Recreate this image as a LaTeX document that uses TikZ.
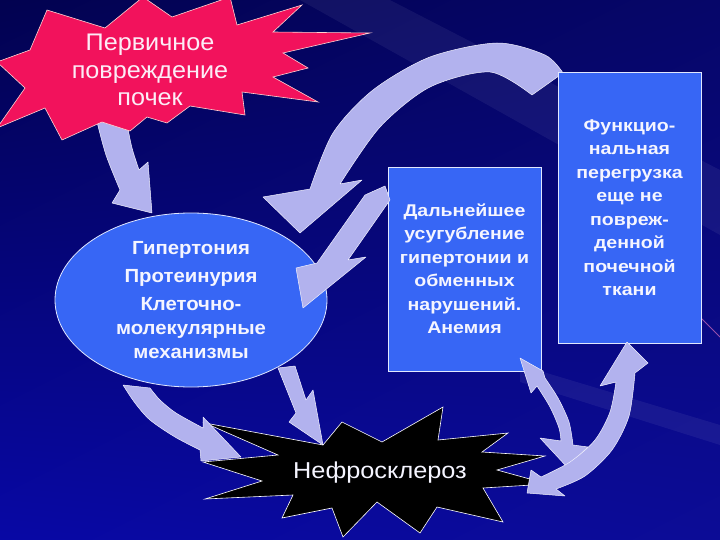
\documentclass[tikz,border=0pt]{standalone}
\usepackage{fontspec}
\setmainfont{Liberation Sans}
\newfontfamily\boxfont[FakeStretch=1.15]{Liberation Sans}
\newfontfamily\ovalfont[FakeStretch=1.07]{Liberation Sans}
\newfontfamily\starfont[FakeStretch=1.05]{Liberation Sans}
\newfontfamily\nephfont[FakeStretch=1.1]{Liberation Sans}
\usetikzlibrary{shapes.geometric,shadings}
\definecolor{bgUL}{RGB}{2,2,80}
\definecolor{bgUR}{RGB}{6,6,105}
\definecolor{bgLL}{RGB}{8,8,165}
\definecolor{bgLR}{RGB}{12,12,150}
\definecolor{starred}{RGB}{242,18,92}
\definecolor{boxblue}{RGB}{55,102,245}
\definecolor{arrowlav}{RGB}{178,178,238}
\definecolor{txtwhite}{RGB}{245,245,255}
\definecolor{txtpink}{RGB}{252,236,246}
\tikzset{
  blockarrow/.style={fill=arrowlav, draw=white!80!arrowlav, line width=0.5pt, line join=round},
  bluebox/.style={rectangle, fill=boxblue, draw=white!85!boxblue, line width=0.8pt,
    inner sep=0pt, align=center, text=txtwhite, font=\boxfont\bfseries\fontsize{17}{23.5}\selectfont},
  blueoval/.style={ellipse, fill=boxblue, draw=white!85!boxblue, line width=0.8pt,
    inner sep=0pt, align=center, text=txtwhite, font=\ovalfont\bfseries\fontsize{19}{24}\selectfont},
  startext/.style={align=center, inner sep=0pt},
  streak/.style={fill=white, opacity=0.06}
}
\begin{document}
\begin{tikzpicture}[x=1pt,y=-1pt]
\useasboundingbox (0,0) rectangle (720,540);
% background
\shade[upper left=bgUL, upper right=bgUR, lower left=bgLL, lower right=bgLR] (0,0) rectangle (720,540);
\fill[streak] (300,0) -- (390,0) -- (720,170) -- (720,235) -- cycle;
\fill[streak] (520,365) -- (720,425) -- (720,445) -- (520,382) -- cycle;
\draw[magenta!50!white, opacity=0.6, line width=0.8pt] (697,314) -- (720,337);

% arrow A (star -> ellipse), under the star
\filldraw[blockarrow] (96,118) -- (127,124) -- plot[smooth] coordinates {(127,124) (132,148) (139,170)}
  -- (148,162) -- (152,213) -- (112,203) -- (120,190)
  -- plot[smooth] coordinates {(120,190) (106,155) (96,118)} -- cycle;

% red star
\filldraw[fill=starred, draw=pink!70!white, line width=0.6pt, line join=miter]
  (47,10) -- (105,28) -- (143,-3) -- (172,17) -- (230,-3) -- (237,25) -- (302,5) -- (273,32)
  -- (370,33) -- (283,53) -- (308,68) -- (273,77) -- (318,102) -- (242,92) -- (245,115)
  -- (190,106) -- (167,123) -- (147,117) -- (130,131) -- (102,122) -- (62,140) -- (45,108)
  -- (-3,128) -- (25,88) -- (-3,62) -- (30,50) -- cycle;
\node[startext, text=txtpink, font=\starfont\fontsize{24}{27.5}\selectfont] (prim) at (150,70)
  {Первичное\\повреждение\\почек};

% big arc arrow B (right box -> ellipse)
\filldraw[blockarrow] (263,197) -- (310,189)
  -- plot[smooth] coordinates {(310,189) (333,133) (373,90) (430,57) (497,43) (545,55) (563,73)}
  -- (532,95)
  -- plot[smooth] coordinates {(532,95) (490,72) (430,87) (380,127) (340,184)}
  -- (362,180) -- (300,233) -- cycle;

% ellipse
\node[blueoval, minimum width=272pt, minimum height=174pt] (oval) at (191,300)
  {Гипертония\\[4pt]Протеинурия\\[4pt]Клеточно-\\молекулярные\\механизмы};

% boxes
\node[bluebox, minimum width=153pt, minimum height=204pt] (further) at (464.5,269)
  {Дальнейшее\\усугубление\\гипертонии и\\обменных\\нарушений.\\Анемия};
\node[bluebox, minimum width=143pt, minimum height=271pt] (overload) at (629.5,207.5)
  {Функцио-\\нальная\\перегрузка\\еще не\\повреж-\\денной\\почечной\\ткани};

% arrow C (box -> ellipse)
\filldraw[blockarrow] (303,308) -- (296,268) -- (317,263) -- (365,195) -- (385,186)
  -- (390,200) -- (348,260) -- (366,257) -- cycle;

% black star
\filldraw[fill=black, draw=white, line width=0.6pt, line join=miter]
  (205,423) -- (323,445) -- (342,422) -- (382,442) -- (443,407) -- (438,440) -- (508,433)
  -- (482,452) -- (545,456) -- (497,470) -- (548,484) -- (483,488) -- (503,522) -- (437,507)
  -- (420,533) -- (377,502) -- (343,537) -- (332,508) -- (282,518) -- (293,495) -- (205,499)
  -- (262,481) -- (203,462) -- (278,455) -- cycle;
\node[startext, text=txtwhite, font=\nephfont\fontsize{23}{27}\selectfont] (nephro) at (380,473) {Нефросклероз};

% arrow D (ellipse -> black star)
\filldraw[blockarrow] (241,457) -- (201,461) -- (200,450)
  -- plot[smooth] coordinates {(200,450) (175,437) (150,420) (135,403) (123,385)}
  -- (150,388)
  -- plot[smooth] coordinates {(150,388) (160,400) (176,413) (203,428)}
  -- (203,417) -- cycle;

% arrow E (ellipse -> black star)
\filldraw[blockarrow] (278,368) -- (295,366) -- (306,400) -- (313,390) -- (323,445)
  -- (289,422) -- (296,413) -- cycle;

% arrow F (box <-> black star)
\filldraw[blockarrow] (520,358) -- (543,371) -- (545,378)
  -- plot[smooth] coordinates {(545,378) (558,398) (569,422) (573,445)}
  -- (588,447) -- (567,467) -- (540,438) -- (561,441)
  -- plot[smooth] coordinates {(561,441) (559,428) (550,407) (537,386)}
  -- (531,393) -- cycle;

% arrow G (black star <-> right box)
\filldraw[blockarrow] (527,493) -- (531,470) -- (541,477)
  -- plot[smooth] coordinates {(541,477) (570,462) (595,440) (610,412) (616,382)}
  -- (600,386) -- (627,342) -- (648,363) -- (635,373)
  -- plot[smooth] coordinates {(635,373) (629,416) (612,450) (585,476) (556,489)}
  -- (565,496) -- cycle;
\end{tikzpicture}
\end{document}
